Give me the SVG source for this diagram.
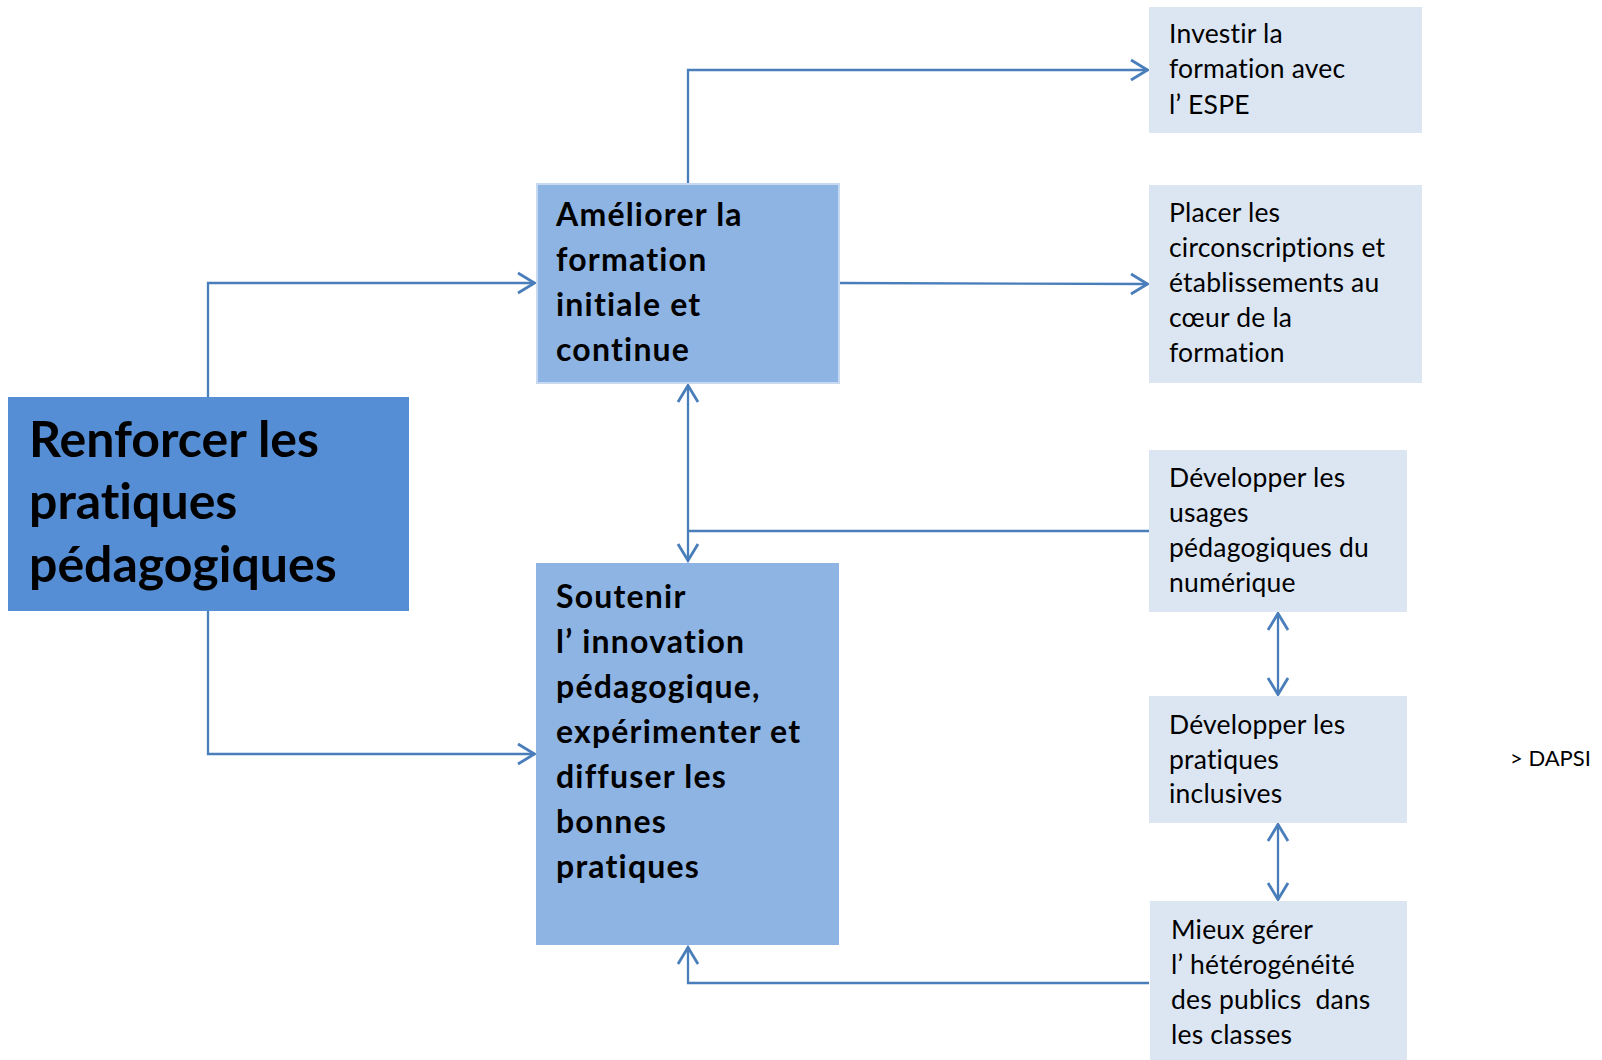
<svg xmlns="http://www.w3.org/2000/svg" width="1602" height="1060" viewBox="0 0 1602 1060">
<style>
.main{fill:#558ED5}
.mid{fill:#8EB4E3}
.leaf{fill:#DCE6F2}
text{font-variant-ligatures:none}
.tb{font-family:Lato,"Liberation Sans",sans-serif;font-weight:bold;fill:#000}
.tm{font-size:32px;letter-spacing:1.2px}
.tr{font-family:Lato,"Liberation Sans",sans-serif;fill:#000;font-size:26.5px;letter-spacing:0.2px}
.c{fill:none;stroke:#4A7EBB;stroke-width:2.3}
</style>
<defs>
<marker id="ah" markerUnits="userSpaceOnUse" markerWidth="26" markerHeight="26" refX="18.5" refY="12" orient="auto-start-reverse" viewBox="0 0 26 26">
<path d="M1.5,2 L18,12 L1.5,22" fill="none" stroke="#4A7EBB" stroke-width="2.8"/>
</marker>
</defs>
<rect width="1602" height="1060" fill="#fff"/>
<g id="connectors">
<polyline class="c" points="208,397 208,283 535,283" marker-end="url(#ah)"/>
<polyline class="c" points="208,611 208,754 535,754" marker-end="url(#ah)"/>
<polyline class="c" points="688,183 688,70 1148,70" marker-end="url(#ah)"/>
<line class="c" x1="839" y1="283" x2="1148" y2="284" marker-end="url(#ah)"/>
<line class="c" x1="688" y1="385" x2="688" y2="561" marker-start="url(#ah)" marker-end="url(#ah)"/>
<line class="c" x1="1149" y1="531" x2="688" y2="531"/>
<line class="c" x1="1278" y1="613" x2="1278" y2="695" marker-start="url(#ah)" marker-end="url(#ah)"/>
<line class="c" x1="1278" y1="824" x2="1278" y2="900" marker-start="url(#ah)" marker-end="url(#ah)"/>
<polyline class="c" points="1149,983 688,983 688,947" marker-end="url(#ah)"/>
</g>
<g id="n-renforcer">
<rect class="main" x="8" y="397" width="401" height="214"/>
<text class="tb" font-size="50"><tspan x="29" y="457">Renforcer les</tspan><tspan x="29" y="519">pratiques</tspan><tspan x="29" y="582">pédagogiques</tspan></text>
</g>
<g id="n-ameliorer">
<rect class="mid" x="537" y="184" width="302" height="199" stroke="#C6D9F1" stroke-width="2"/>
<text class="tb tm"><tspan x="556" y="226">Améliorer la</tspan><tspan x="556" y="271">formation</tspan><tspan x="556" y="316">initiale et</tspan><tspan x="556" y="361">continue</tspan></text>
</g>
<g id="n-soutenir">
<rect class="mid" x="536" y="563" width="303" height="382"/>
<text class="tb tm"><tspan x="556" y="608">Soutenir</tspan><tspan x="556" y="653">l’ innovation</tspan><tspan x="556" y="698">pédagogique,</tspan><tspan x="556" y="743">expérimenter et</tspan><tspan x="556" y="788">diffuser les</tspan><tspan x="556" y="833">bonnes</tspan><tspan x="556" y="878">pratiques</tspan></text>
</g>
<g id="n-investir">
<rect class="leaf" x="1149" y="7" width="273" height="126"/>
<text class="tr"><tspan x="1169" y="43">Investir la</tspan><tspan x="1169" y="78">formation avec</tspan><tspan x="1169" y="114">l’ ESPE</tspan></text>
</g>
<g id="n-placer">
<rect class="leaf" x="1149" y="185" width="273" height="198"/>
<text class="tr"><tspan x="1169" y="222">Placer les</tspan><tspan x="1169" y="257">circonscriptions et</tspan><tspan x="1169" y="292">établissements au</tspan><tspan x="1169" y="327">cœur de la</tspan><tspan x="1169" y="362">formation</tspan></text>
</g>
<g id="n-usages">
<rect class="leaf" x="1149" y="450" width="258" height="162"/>
<text class="tr"><tspan x="1169" y="487">Développer les</tspan><tspan x="1169" y="522">usages</tspan><tspan x="1169" y="557">pédagogiques du</tspan><tspan x="1169" y="592">numérique</tspan></text>
</g>
<g id="n-inclusives">
<rect class="leaf" x="1149" y="696" width="258" height="127"/>
<text class="tr"><tspan x="1169" y="734">Développer les</tspan><tspan x="1169" y="769">pratiques</tspan><tspan x="1169" y="803">inclusives</tspan></text>
</g>
<g id="n-heterogeneite">
<rect class="leaf" x="1150" y="901" width="257" height="159"/>
<text class="tr" xml:space="preserve"><tspan x="1171" y="939">Mieux gérer</tspan><tspan x="1171" y="974">l’ hétérogénéité</tspan><tspan x="1171" y="1009">des publics  dans</tspan><tspan x="1171" y="1044">les classes</tspan></text>
</g>
<text class="tr" x="1510" y="766" style="font-size:22px;letter-spacing:0">&gt; DAPSI</text>
</svg>
